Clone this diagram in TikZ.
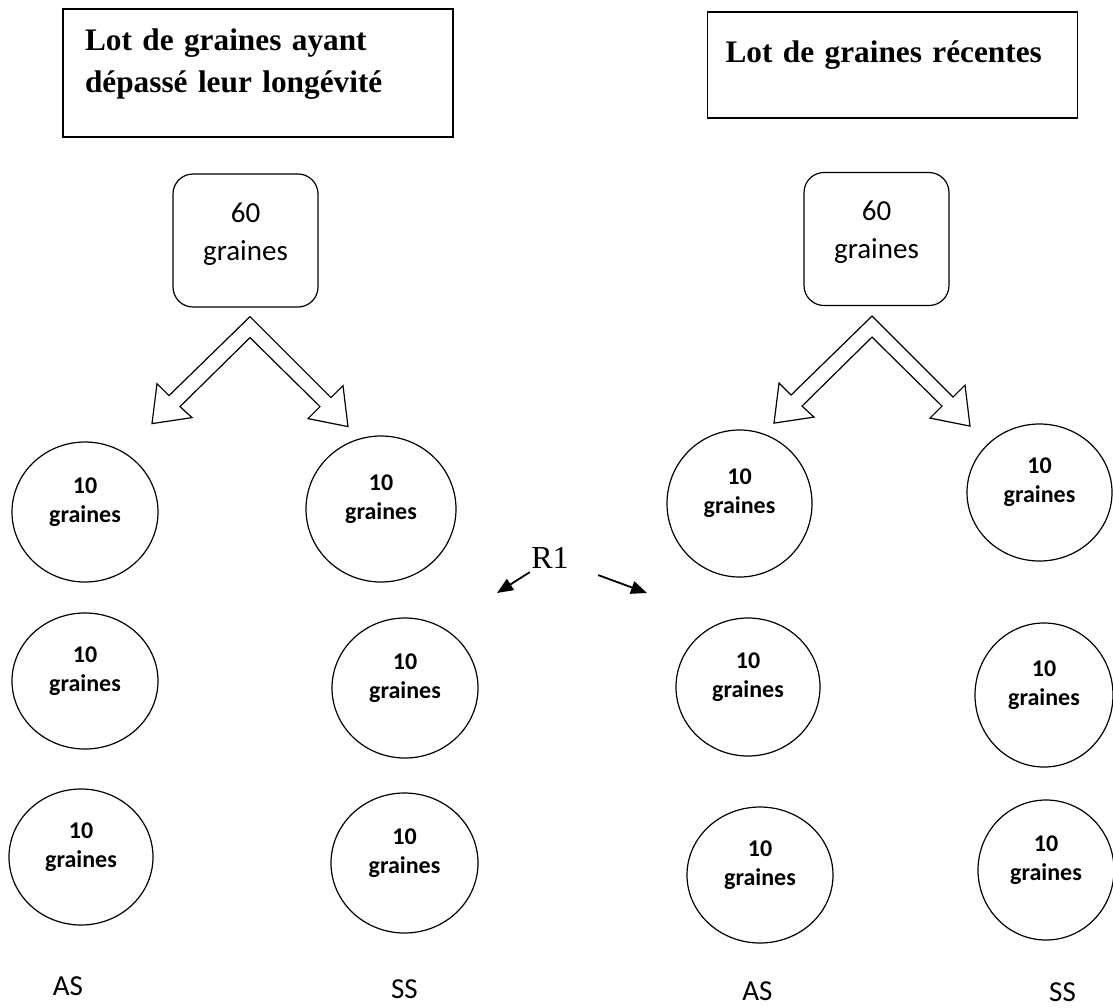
\documentclass[tikz,border=0pt]{standalone}
\usepackage{fontspec}
\setmainfont{Liberation Serif}
\newfontfamily\calibri{Carlito}
\usetikzlibrary{shapes.geometric, arrows.meta, positioning, calc}
\tikzset{
  lot/.style={rectangle, draw, line width=1.3pt, align=left,
    font=\bfseries\fontsize{31.3}{42}\selectfont, text height=22pt},
  sixty/.style={rectangle, draw, rounded corners=20pt, line width=1.2pt,
    minimum width=145pt, minimum height=133pt, align=center,
    font=\calibri\fontsize{29}{38}\selectfont, text height=57pt, text depth=18pt},
  dix/.style={ellipse, draw, line width=1.2pt, minimum width=146pt, minimum height=140pt,
    align=center, font=\calibri\bfseries\fontsize{24}{29}\selectfont,
    text height=44pt, text depth=24pt},
  split/.style={draw, line width=1.2pt, line join=miter},
  arrow/.style={-{Triangle[length=16pt, width=13pt]}, line width=1.8pt},
  tag/.style={anchor=base, inner sep=1pt, font=\calibri\fontsize{29}{35}\selectfont}
}
\begin{document}
\begin{tikzpicture}[x=1pt, y=-1pt]
  \useasboundingbox (0,0) rectangle (1113,1007);

  % Lots
  \node[lot, minimum width=390pt, minimum height=128pt, text width=346pt, inner xsep=22pt, text depth=68pt] (lotA) at (258,73) {Lot de graines ayant\\dépassé leur longévité};
  \node[lot, minimum width=370pt, minimum height=106pt, text width=334pt, inner xsep=18pt, text depth=28pt] (lotB) at (892.5,65) {Lot de graines récentes};

  % 60 graines
  \node[sixty] (grA) at (245.5,240.5) {60\\graines};
  \node[sixty] (grB) at (876.5,239) {60\\graines};

  % Split arrows
  \draw[split, shift={($(grA.south)+(4.5,9)$)}] (0,0) -- (-81,79) -- (-93,67) -- (-98,107) -- (-58,101) -- (-70,90) -- (0,21) -- (70,90) -- (58,102) -- (98,110) -- (93,69) -- (81,81) -- cycle;
  \draw[split, shift={($(grB.south)+(-4.5,10)$)}] (0,0) -- (-81,79) -- (-93,67) -- (-98,107) -- (-58,101) -- (-70,90) -- (0,21) -- (70,90) -- (58,102) -- (98,110) -- (93,69) -- (81,81) -- cycle;

  % Lot A : AS / SS
  \node[dix] (a1) at (85,512) {10\\graines};
  \node[dix, minimum height=136pt] (a2) at (85,681) {10\\graines};
  \node[dix, minimum width=144pt, minimum height=136pt] (a3) at (81,857) {10\\graines};
  \node[dix, minimum width=150pt, minimum height=146pt] (b1) at (381,509) {10\\graines};
  \node[dix] (b2) at (405,688) {10\\graines};
  \node[dix, minimum width=147pt] (b3) at (404.5,863) {10\\graines};

  % Lot B : AS / SS
  \node[dix, minimum width=145pt, minimum height=147pt] (c1) at (739.5,503.5) {10\\graines};
  \node[dix, minimum width=144pt, minimum height=138pt] (c2) at (748,687) {10\\graines};
  \node[dix, minimum height=136pt] (c3) at (760,875) {10\\graines};
  \node[dix, minimum width=145pt, minimum height=137pt] (d1) at (1039.5,492.5) {10\\graines};
  \node[dix, minimum width=138pt, minimum height=144pt] (d2) at (1044,695) {10\\graines};
  \node[dix, minimum width=136pt] (d3) at (1046,870) {10\\graines};

  % R1
  \node[font=\fontsize{32}{38}\selectfont] (r1) at (550,558) {R1};
  \coordinate (r1l) at (497,593);
  \coordinate (r1r) at (647,593);
  \draw[arrow] ([xshift=2pt]r1.south west) -- (r1l);
  \draw[arrow] ([xshift=26pt, yshift=-3pt]r1.south east) -- (r1r);

  % Labels
  \node[tag] (asA) at (68,995) {AS};
  \node[tag] (ssA) at (404.5,998) {SS};
  \node[tag] (asB) at (757.5,1000) {AS};
  \node[tag] (ssB) at (1062.5,1001) {SS};
\end{tikzpicture}
\end{document}
